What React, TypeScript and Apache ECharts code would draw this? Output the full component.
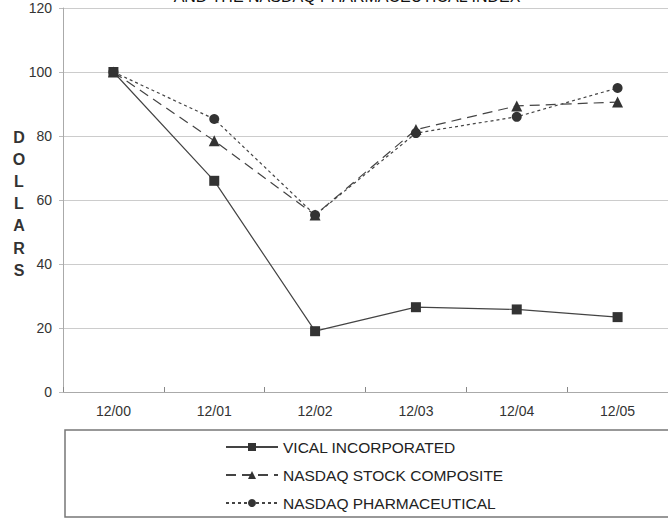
import React, { useEffect, useRef } from "react";
import * as echarts from "echarts";

const categories = ["12/00", "12/01", "12/02", "12/03", "12/04", "12/05"];
const vical = [100, 66, 19, 26.5, 25.8, 23.4];
const composite = [100, 78.5, 55.3, 82, 89.4, 90.6];
const pharma = [100, 85.3, 55.3, 80.9, 86, 95];
const seriesNames = ["VICAL INCORPORATED", "NASDAQ STOCK COMPOSITE", "NASDAQ PHARMACEUTICAL"];
const yTicks = { min: 0, max: 120, interval: 20 };
const axisTitle = ["D", "O", "L", "L", "A", "R", "S"];
const titleText = "AND THE NASDAQ PHARMACEUTICAL INDEX";

export default function App() {
  const ref = useRef<HTMLDivElement>(null);
  useEffect(() => {
    if (!ref.current) return;
    const chart = echarts.init(ref.current, null, { renderer: "svg" });
    const font = "'Liberation Sans', Arial, sans-serif";
    const dark = "#333333";
    const letters = axisTitle.map((ch, i) => ({
      type: "text",
      x: 19,
      y: 137 + i * 22.2,
      style: {
        text: ch,
        font: `bold 16px ${font}`,
        fill: "#333",
        textAlign: "center",
        textVerticalAlign: "middle",
      },
    }));
    const option = {
      animation: false,
      backgroundColor: "#ffffff",
      grid: { left: 63, top: 8, right: -13, bottom: 126, containLabel: false },
      xAxis: {
        type: "category",
        data: categories,
        boundaryGap: true,
        axisLine: { lineStyle: { color: "#aaaaaa", width: 1 } },
        axisTick: { show: true, inside: true, length: 5, lineStyle: { color: "#888" } },
        axisLabel: { color: dark, fontSize: 14, fontFamily: font, margin: 12 },
        splitLine: { show: false },
      },
      yAxis: {
        type: "value",
        min: yTicks.min,
        max: yTicks.max,
        interval: yTicks.interval,
        axisLine: { show: true, lineStyle: { color: "#aaaaaa", width: 1 } },
        axisTick: { show: true, length: 4, lineStyle: { color: "#bbbbbb" } },
        axisLabel: { color: dark, fontSize: 14, fontFamily: font, margin: 11 },
        splitLine: { show: true, lineStyle: { color: "#cccccc", width: 1 } },
      },
      legend: {
        orient: "vertical",
        left: 225,
        top: 439,
        padding: 0,
        height: 90,
        itemWidth: 52,
        itemHeight: 10,
        itemGap: 12,
        textStyle: { color: "#222", fontSize: 15.5, fontFamily: font },
        data: seriesNames,
      },
      graphic: [
        {
          type: "rect",
          shape: { x: 65, y: 430, width: 620, height: 87 },
          style: { fill: "none", stroke: "#777777", lineWidth: 1.5 },
          z: 0,
        },
        {
          type: "text",
          x: 347,
          y: -12,
          style: { text: titleText, font: `16px ${font}`, fill: "#111", textAlign: "center", textVerticalAlign: "top" },
        },
        ...letters,
      ],
      series: [
        {
          name: seriesNames[0],
          type: "line",
          data: vical,
          symbol: "rect",
          symbolSize: 10,
          itemStyle: { color: dark },
          lineStyle: { color: "#444", width: 1.2, type: "solid" },
        },
        {
          name: seriesNames[1],
          type: "line",
          data: composite,
          symbol: "triangle",
          symbolSize: 11,
          itemStyle: { color: dark },
          lineStyle: { color: "#444", width: 1.2, type: [10, 6] },
        },
        {
          name: seriesNames[2],
          type: "line",
          data: pharma,
          symbol: "circle",
          symbolSize: 10,
          itemStyle: { color: dark },
          lineStyle: { color: "#444", width: 1.2, type: [3, 3] },
        },
      ],
    };
    chart.setOption(option as any);
    return () => chart.dispose();
  }, []);
  return <div ref={ref} style={{ position: "fixed", left: 0, top: 0, width: 668, height: 518 }} />;
}
